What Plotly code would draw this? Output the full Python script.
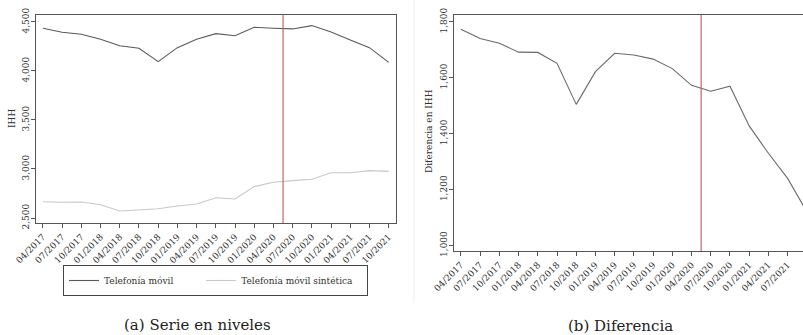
import plotly.graph_objects as go

periods = ["04/2017", "07/2017", "10/2017", "01/2018", "04/2018", "07/2018", "10/2018",
           "01/2019", "04/2019", "07/2019", "10/2019", "01/2020", "04/2020", "07/2020",
           "10/2020", "01/2021", "04/2021", "07/2021", "10/2021"]
movil = [4436, 4395, 4374, 4323, 4258, 4231, 4095, 4238, 4323, 4381, 4360, 4446,
         4436, 4429, 4463, 4398, 4316, 4238, 4088]
sintetica = [2666, 2660, 2663, 2636, 2571, 2585, 2595, 2622, 2643, 2707, 2694, 2820,
             2864, 2881, 2895, 2962, 2962, 2983, 2976]
diferencia = [1774, 1741, 1724, 1692, 1691, 1652, 1505, 1622, 1688, 1682, 1667, 1633,
              1573, 1552, 1570, 1428, 1330, 1240, 1120]
intervention = 12.5  # between 04/2020 and 07/2020
left_yticks = [2500, 3000, 3500, 4000, 4500]
right_yticks = [1000, 1200, 1400, 1600, 1800]
series_names = ["Telefonía móvil", "Telefonía móvil sintética"]

W, H = 803, 335
xi = list(range(len(periods)))
FONT = "DejaVu Serif, Liberation Serif, serif"
AX = "#555555"
NB = "\u00a0"

def px(x):
    return x / W

def py(y):
    return 1 - y / H

fig = go.Figure()
fig.add_trace(go.Scatter(x=xi, y=movil, mode="lines", name=series_names[0] + NB * 8,
                         line=dict(color="#5a5a5a", width=1.1), xaxis="x", yaxis="y"))
fig.add_trace(go.Scatter(x=xi, y=sintetica, mode="lines", name=series_names[1] + NB * 3,
                         line=dict(color="#c8c8c8", width=1.1), xaxis="x", yaxis="y"))
fig.add_trace(go.Scatter(x=xi, y=diferencia, mode="lines", showlegend=False,
                         line=dict(color="#6a6a6a", width=1.1), xaxis="x2", yaxis="y2"))

common_x = dict(tickvals=xi, ticktext=periods, tickangle=-45, ticks="outside", ticklen=4,
                tickcolor=AX, showline=True, linecolor=AX, linewidth=1.2, showgrid=False,
                zeroline=False, automargin=False,
                tickfont=dict(family=FONT, size=9, color="#333"))
common_y = dict(ticks="outside", ticklen=4, tickcolor=AX, showline=True, linecolor=AX,
                linewidth=1.2, showgrid=False, zeroline=False, tickangle=-90, automargin=False,
                ticklabelstandoff=-2,
                tickformat=",.0f", tickfont=dict(family=FONT, size=9, color="#333"))

fig.update_layout(
    width=W, height=H, margin=dict(l=0, r=0, t=0, b=0, autoexpand=False),
    paper_bgcolor="white", plot_bgcolor="white",
    font=dict(family=FONT, color="#333"),
    xaxis=dict(domain=[px(36), px(396)], range=[-0.36, 18.38], mirror=True, anchor="y", **common_x),
    yaxis=dict(domain=[py(223), py(15)], range=[2449, 4571], tickvals=left_yticks, mirror=True,
               anchor="x", **common_y),
    xaxis2=dict(domain=[px(454), 1.0], range=[-0.36, 17.8], mirror=True, anchor="y2", **common_x),
    yaxis2=dict(domain=[py(251), py(15)], range=[980, 1825], tickvals=right_yticks, mirror=False,
                anchor="x2", **common_y),
    showlegend=True,
    legend=dict(orientation="h", x=px(63), y=py(265), xanchor="left", yanchor="top",
                bordercolor="#444", borderwidth=1, font=dict(family=FONT, size=9, color="#333"),
                itemwidth=30, tracegroupgap=0),
    shapes=[
        dict(type="line", xref="x", yref="y domain", x0=intervention, x1=intervention, y0=0, y1=1,
             line=dict(color="#c86464", width=1.2)),
        dict(type="line", xref="x2", yref="y2 domain", x0=intervention, x1=intervention, y0=0, y1=1,
             line=dict(color="#c86464", width=1.2)),
        dict(type="line", xref="paper", yref="paper", x0=px(414), x1=px(414), y0=py(303), y1=1,
             line=dict(color="#f0f0f0", width=1)),
    ],
    annotations=[
        dict(text="IHH", x=px(12), y=py(119), xref="paper", yref="paper", textangle=-90,
             xanchor="center", yanchor="middle",
             showarrow=False, font=dict(family=FONT, size=9, color="#333")),
        dict(text="Diferencia en IHH", x=px(429), y=py(131), xref="paper", yref="paper",
             xanchor="center", yanchor="middle",
             textangle=-90, showarrow=False, font=dict(family=FONT, size=9, color="#333")),
        dict(text="(a) Serie en niveles", x=px(197), y=py(325), xref="paper", yref="paper",
             xanchor="center", yanchor="middle",
             showarrow=False, font=dict(family=FONT, size=15, color="#222")),
        dict(text="(b) Diferencia", x=px(620), y=py(326), xref="paper", yref="paper",
             xanchor="center", yanchor="middle",
             showarrow=False, font=dict(family=FONT, size=15, color="#222")),
    ],
)

fig.write_html("out.html")
